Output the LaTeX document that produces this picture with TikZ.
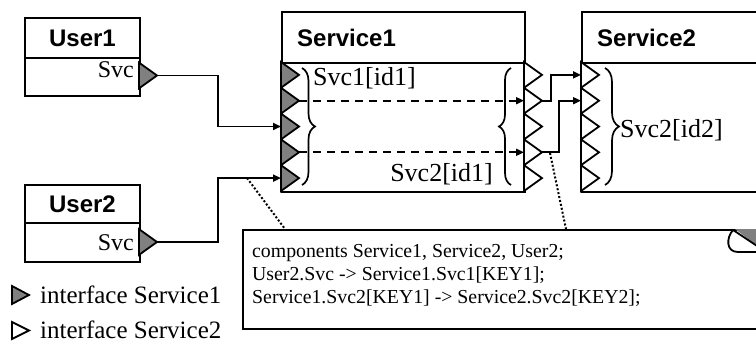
\documentclass[tikz,border=0pt]{standalone}
\usepackage{fontspec}
\setmainfont{Liberation Serif}
\setsansfont{Liberation Sans}
\usetikzlibrary{arrows.meta, positioning, calc, decorations.pathreplacing}
\definecolor{portgray}{RGB}{128,128,128}

\tikzset{
  box/.style={draw, line width=2pt, rectangle, inner sep=0pt, anchor=north west},
  title/.style={font=\sffamily\bfseries\fontsize{24}{28}\selectfont, inner sep=0pt},
  lbl/.style={font=\fontsize{#1}{#1}\selectfont, inner sep=0pt},
  conn/.style={line width=1.8pt, -{Triangle[length=8pt,width=7pt]}},
  flow/.style={conn, dash pattern=on 8pt off 6pt},
  note/.style={line width=2pt, dash pattern=on 2pt off 2pt},
  curly/.style={line width=1.7pt, decorate, decoration={brace, amplitude=#1}},
  pics/port/.style={code={
    \draw[line width=1.8pt, fill=#1, line join=miter] (0,-12.9) -- (18,0) -- (0,12.9) -- cycle;
    \coordinate (-base) at (0,0);
    \coordinate (-tip) at (18,0);
  }},
}

\begin{document}
\begin{tikzpicture}[x=1pt, y=-1pt]
  \clip (0,0) rectangle (756,345);

  % components
  \node[box, minimum width=115, minimum height=40, title] (u1head) at (24,17) {User1};
  \node[box, minimum width=115, minimum height=38] (u1) at (24,57) {};
  \node[box, minimum width=115, minimum height=38, title] (u2head) at (24,184) {User2};
  \node[box, minimum width=115, minimum height=39] (u2) at (24,222) {};
  \node[box, minimum width=243, minimum height=51] (s1head) at (281,11) {};
  \node[box, minimum width=243, minimum height=129] (s1) at (281,62) {};
  \node[box, minimum width=200, minimum height=51] (s2head) at (581,11) {};
  \node[box, minimum width=200, minimum height=129] (s2) at (581,62) {};

  \node[title, anchor=base west] (s1name) at (297,47) {Service1};
  \node[title, anchor=base west] (s2name) at (597,47) {Service2};
  \node[lbl=24, anchor=base east] (u1svc) at (134,78) {Svc};
  \node[lbl=24, anchor=base east] (u2svc) at (134,250) {Svc};

  % ports
  \pic (u1p) at (139,75.5) {port=portgray};
  \pic (u2p) at (139,242) {port=portgray};
  \foreach \i in {1,...,5} {
    \pic (s1l\i) at (281,{62+25.8*(\i-0.5)}) {port=portgray};
    \pic (s1r\i) at (524,{62+25.8*(\i-0.5)}) {port=white};
    \pic (s2l\i) at (581,{62+25.8*(\i-0.5)}) {port=white};
  }

  % braces and interface labels
  \draw[curly=13pt] (302,68) -- (302,185);
  \draw[curly=12pt] (511,185) -- (511,68);
  \draw[curly=14pt] (605,68) -- (605,185);
  \node[lbl=26, anchor=base west] (svc1id1) at (313,85) {Svc1[id1]};
  \node[lbl=26, anchor=base east] (svc2id1) at (493,182) {Svc2[id1]};
  \node[lbl=26, anchor=base west] (svc2id2) at (620,137) {Svc2[id2]};

  % connections
  \draw[conn] (u1p-tip) -- ++(61,0) |- (s1l3-base);
  \draw[conn] (u2p-tip) -- ++(61,0) |- (s1l5-base);
  \draw[flow] (s1l2-tip) -- (s1r2-base);
  \draw[flow] (s1l4-tip) -- (s1r4-base);
  \draw[conn] (s1r2-tip) -- ++(9,0) |- (s2l1-base);
  \draw[conn] (s1r4-tip) -- ++(17,0) |- (s2l2-base);
  \coordinate (n1) at (247,178);
  \coordinate (n2) at (550,153);

  % code note
  \node[box, minimum width=540, minimum height=99] (code) at (242,229) {};
  \node[lbl=19.8, anchor=north west, align=left, font=\fontsize{19.8}{23}\selectfont] (codetext) at (252,244)
    {components Service1, Service2, User2;\\
     User2.Svc -> Service1.Svc1[KEY1];\\
     Service1.Svc2[KEY1] -> Service2.Svc2[KEY2];};
  \fill[portgray] (735,229) -- (760,229) -- (760,248) -- cycle;
  \draw[line width=1.8pt, fill=white] (760,248) -- (733,230)
    .. controls (726,238) and (726,252) .. (738,252) -- (760,252);
  \draw[note] (n1) -- ([xshift=43pt]code.north west);
  \draw[note] (n2) -- ([xshift=324pt]code.north west);

  % legend
  \draw[line width=1.8pt, fill=portgray, line join=miter] (12,286) -- (29,295) -- (12,304) -- cycle;
  \draw[line width=1.8pt, fill=white, line join=miter] (12,322) -- (29,330.5) -- (12,339) -- cycle;
  \node[lbl=25, anchor=base west] (leg1) at (40,303) {interface Service1};
  \node[lbl=25, anchor=base west] (leg2) at (40,338) {interface Service2};
\end{tikzpicture}
\end{document}
